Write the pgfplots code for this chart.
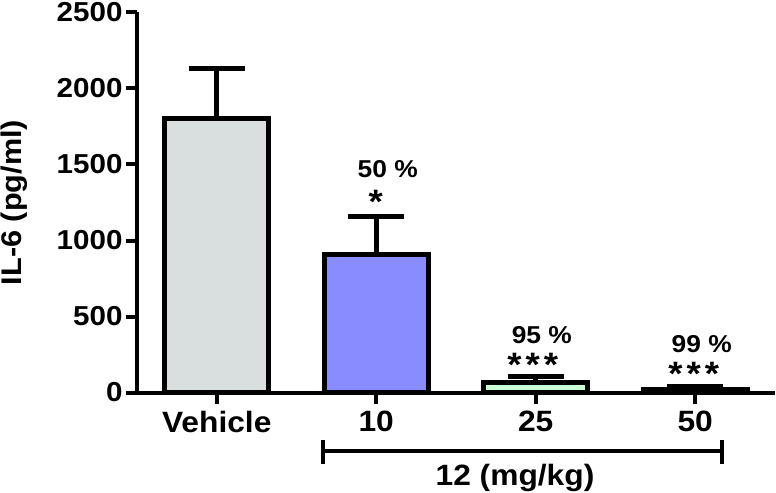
\documentclass[border=0pt]{standalone}
\usepackage{fontspec}
\setmainfont{Liberation Sans}[FakeStretch=1.08]
\usepackage{pgfplots}
\pgfplotsset{compat=1.18}
\definecolor{vehgray}{RGB}{217,222,222}
\definecolor{tenblue}{RGB}{136,140,255}
\definecolor{tfgreen}{RGB}{200,255,212}
\begin{document}
\begin{tikzpicture}
\begin{axis}[
  name=ax,
  scale only axis, width=638bp, height=380bp,
  xmin=-0.5, xmax=3.5, ymin=0, ymax=2500,
  axis x line=bottom, axis y line=left,
  axis line style={-, line width=4bp},
  xtick={0,1,2,3}, xticklabels={Vehicle,10,25,50},
  ytick={0,500,1000,1500,2000,2500},
  tick align=outside, major tick length=11bp,
  tick style={line width=4bp, black},
  /pgf/number format/assume math mode=true,
  /pgf/number format/1000 sep={},
  yticklabel style={font=\fontsize{27.5}{30}\selectfont\bfseries},
  xticklabel style={font=\fontsize{29.5}{32}\selectfont\bfseries, yshift=-4bp},
  label style={font=\fontsize{28.5}{32}\selectfont\bfseries},
  ylabel={IL-6 (pg/ml)},
  ylabel style={at={(rel axis cs:-0.1928,0.5)}, anchor=center},
  clip=false,
]
\addplot[ybar, bar width=104bp, bar shift=0pt, draw=black, line width=5bp, fill=vehgray,
  error bars/.cd, y dir=plus, y explicit,
  error bar style={line width=5bp, black},
  error mark options={rotate=90, mark size=28bp, line width=5bp, black}]
  coordinates {(0,1800) +- (0,330)};
\addplot[ybar, bar width=104bp, bar shift=0pt, draw=black, line width=5bp, fill=tenblue,
  error bars/.cd, y dir=plus, y explicit,
  error bar style={line width=5bp, black},
  error mark options={rotate=90, mark size=28bp, line width=5bp, black}]
  coordinates {(1,910) +- (0,250)};
\addplot[ybar, bar width=104bp, bar shift=0pt, draw=black, line width=5bp, fill=tfgreen,
  error bars/.cd, y dir=plus, y explicit,
  error bar style={line width=5bp, black},
  error mark options={rotate=90, mark size=28bp, line width=5bp, black}]
  coordinates {(2,66) +- (0,38)};
\addplot[ybar, bar width=104bp, bar shift=0pt, draw=black, line width=5bp, fill=black,
  error bars/.cd, y dir=plus, y explicit,
  error bar style={line width=5bp, black},
  error mark options={rotate=90, mark size=28bp, line width=5bp, black}]
  coordinates {(3,22) +- (0,16)};
% annotations
\node[anchor=base, font=\fontsize{24.5}{28}\selectfont\bfseries] at (axis cs:1.072,1416) {50 \%};
\node[anchor=base, font=\fontsize{34}{38}\selectfont\bfseries] at (axis cs:0.997,1180) {*};
\node[anchor=base, font=\fontsize{24.5}{28}\selectfont\bfseries] at (axis cs:2.038,325) {95 \%};
\node[anchor=base, font=\fontsize{34}{38}\selectfont\bfseries] at (axis cs:1.981,102) {*\hspace{4bp}*\hspace{4bp}*};
\node[anchor=base, font=\fontsize{24.5}{28}\selectfont\bfseries] at (axis cs:3.041,266) {99 \%};
\node[anchor=base, font=\fontsize{34}{38}\selectfont\bfseries] at (axis cs:2.991,43) {*\hspace{4bp}*\hspace{4bp}*};
% dose bracket
\draw[line width=4bp, black] (axis cs:0.665,-384) -- (axis cs:3.17,-384);
\draw[line width=4bp, black] (axis cs:0.665,-312) -- (axis cs:0.665,-470);
\draw[line width=4bp, black] (axis cs:3.17,-312) -- (axis cs:3.17,-470);
\node[anchor=base, font=\fontsize{29.5}{32}\selectfont\bfseries] at (axis cs:1.87,-612) {12 (mg/kg)};
\end{axis}
\pgfresetboundingbox
\path ([shift={(-137bp,-100.5bp)}]ax.south west) rectangle ([shift={(639bp,392.5bp)}]ax.south west);
\end{tikzpicture}
\end{document}
